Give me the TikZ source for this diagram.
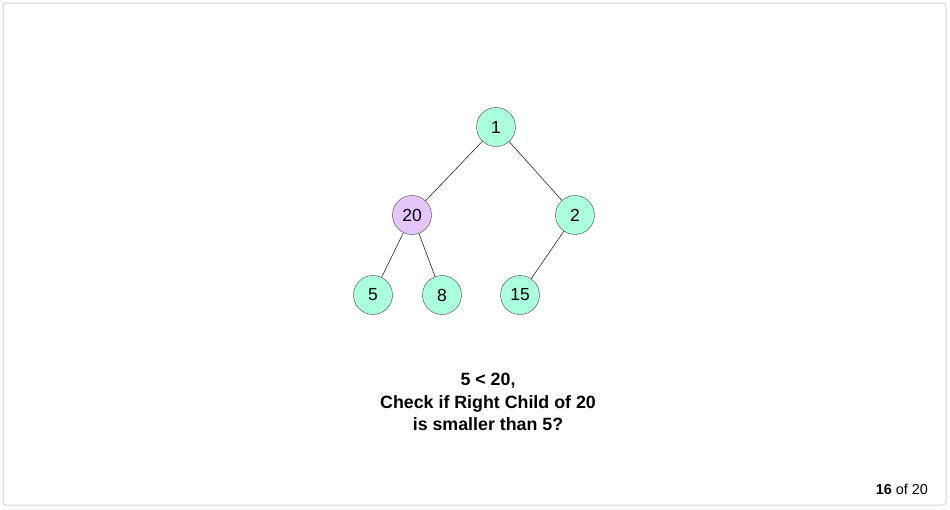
\documentclass[tikz,border=0pt]{standalone}
\usepackage{fontspec}
\setmainfont{Liberation Sans}
\usepackage{tikz}
\usetikzlibrary{positioning}
\definecolor{Mint}{HTML}{AAFFDD}
\definecolor{Lilac}{HTML}{E6C6FA}
\definecolor{Frame}{HTML}{D6D6D6}
\begin{document}
\begin{tikzpicture}[x=1pt,y=-1pt,
    vert/.style={circle,draw=black!75,fill=Mint,minimum size=39pt,inner sep=0pt,font=\fontsize{17.5}{20}\selectfont},
    hot/.style={vert,fill=Lilac},
    edge/.style={draw=black!85,line width=0.6pt},
    caption/.style={align=center,font=\fontsize{17.8}{22.5}\selectfont\bfseries}
]
\useasboundingbox (0,0) rectangle (950,509);
\draw[Frame,rounded corners=3pt,line width=1pt] (3,3) rectangle (946,505);
% tree
\node[vert] (n1) at (496,127) {1};
\node[hot] (n20) at (412,215) {20};
\node[vert] (n2) at (575,215) {2};
\node[vert] (n5) at (373,295) {5};
\node[vert] (n8) at (442,295) {8};
\node[vert] (n15) at (520,295) {15};
\draw[edge] (n1) -- (n20);
\draw[edge] (n1) -- (n2);
\draw[edge] (n20) -- (n5);
\draw[edge] (n20) -- (n8);
\draw[edge] (n2) -- (n15);
% text
\node[caption] (msg) at (488,402) {5 < 20,\\Check if Right Child of 20\\is smaller than 5?};
\node[anchor=east,inner sep=0pt,font=\fontsize{14.4}{16}\selectfont] (page) at (928,489) {\textbf{16} of 20};
\end{tikzpicture}
\end{document}
